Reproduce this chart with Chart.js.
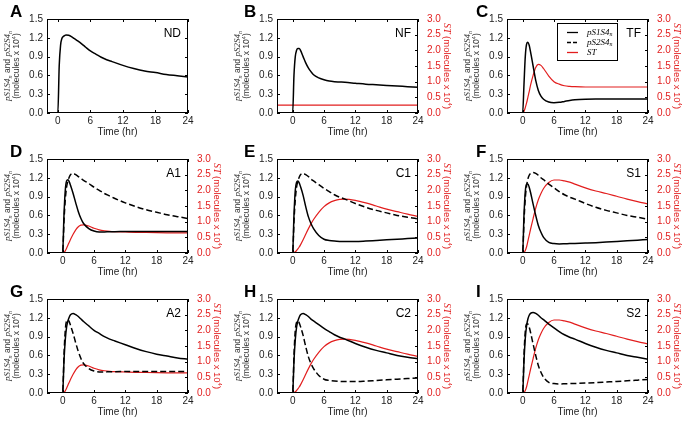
<!DOCTYPE html>
<html>
<head>
<meta charset="utf-8">
<script src="https://cdn.jsdelivr.net/npm/chart.js@4.4.1/dist/chart.umd.min.js"></script>
<style>
  html, body { margin: 0; padding: 0; background: #fff; }
  #grid { position: relative; width: 689px; height: 421px; overflow: hidden; }
  .panel { position: absolute; width: 230px; height: 140px; }
</style>
</head>
<body>
<div id="grid"></div>
<script>
// time points (hr) shared by every curve
const time = [-3, 0, 0.25, 0.5, 0.75, 1, 1.25, 1.5, 2, 2.5, 3, 3.5, 4, 5, 6, 7, 8, 9, 10, 12, 14, 16, 18, 20, 22, 24];
const xTicks = [0, 6, 12, 18, 24];
const leftTicks = [0, 0.3, 0.6, 0.9, 1.2, 1.5];
const rightTicks = [0, 0.5, 1, 1.5, 2, 2.5, 3];
const panelLetters = ['A', 'B', 'C', 'D', 'E', 'F', 'G', 'H', 'I'];
const panelTags = ['ND', 'NF', 'TF', 'A1', 'C1', 'S1', 'A2', 'C2', 'S2'];

// ND
const ndS1 = [0, 0, 0.75, 1.08, 1.19, 1.22, 1.235, 1.245, 1.24, 1.22, 1.19, 1.16, 1.13, 1.06, 0.99, 0.94, 0.89, 0.85, 0.82, 0.76, 0.71, 0.67, 0.645, 0.615, 0.595, 0.575];
// NF
const nfS1 = [0, 0, 0.6, 0.9, 1.0, 1.03, 1.03, 1.0, 0.9, 0.8, 0.72, 0.66, 0.61, 0.56, 0.53, 0.51, 0.5, 0.495, 0.49, 0.475, 0.46, 0.45, 0.44, 0.43, 0.42, 0.41];
const nfST = [0.25, 0.25, 0.25, 0.25, 0.25, 0.25, 0.25, 0.25, 0.25, 0.25, 0.25, 0.25, 0.25, 0.25, 0.25, 0.25, 0.25, 0.25, 0.25, 0.25, 0.25, 0.25, 0.25, 0.25, 0.25, 0.25];
// TF
const tfS1 = [0, 0, 0.45, 0.9, 1.1, 1.13, 1.08, 0.98, 0.75, 0.52, 0.36, 0.27, 0.22, 0.175, 0.165, 0.17, 0.185, 0.2, 0.21, 0.22, 0.225, 0.225, 0.225, 0.225, 0.225, 0.225];
const tfST = [0, 0, 0.05, 0.17, 0.32, 0.5, 0.68, 0.88, 1.2, 1.45, 1.55, 1.52, 1.42, 1.18, 1.0, 0.92, 0.87, 0.85, 0.84, 0.83, 0.83, 0.83, 0.83, 0.83, 0.83, 0.83];
// A1
const a1S1 = [0, 0, 0.6, 1.0, 1.15, 1.17, 1.14, 1.08, 0.95, 0.8, 0.66, 0.55, 0.47, 0.39, 0.35, 0.335, 0.335, 0.34, 0.34, 0.345, 0.345, 0.345, 0.345, 0.345, 0.345, 0.345];
const a1S2 = [0, 0, 0.5, 0.85, 1.05, 1.15, 1.21, 1.25, 1.27, 1.25, 1.22, 1.19, 1.16, 1.11, 1.05, 1.0, 0.95, 0.91, 0.87, 0.8, 0.74, 0.69, 0.65, 0.61, 0.58, 0.55];
const a1ST = [0, 0, 0.02, 0.07, 0.15, 0.25, 0.34, 0.43, 0.6, 0.74, 0.84, 0.89, 0.9, 0.86, 0.79, 0.74, 0.71, 0.69, 0.68, 0.67, 0.66, 0.655, 0.65, 0.645, 0.64, 0.64];
// C1
const c1S1 = [0, 0, 0.6, 1.0, 1.13, 1.15, 1.12, 1.06, 0.92, 0.74, 0.58, 0.47, 0.39, 0.28, 0.22, 0.2, 0.19, 0.185, 0.183, 0.183, 0.19, 0.2, 0.21, 0.22, 0.23, 0.24];
const c1S2 = [0, 0, 0.5, 0.85, 1.05, 1.15, 1.21, 1.25, 1.27, 1.25, 1.22, 1.18, 1.15, 1.09, 1.03, 0.98, 0.93, 0.89, 0.86, 0.79, 0.73, 0.68, 0.64, 0.6, 0.57, 0.545];
const c1ST = [0, 0, 0.01, 0.04, 0.08, 0.13, 0.19, 0.26, 0.42, 0.6, 0.77, 0.93, 1.07, 1.3, 1.48, 1.6, 1.67, 1.71, 1.72, 1.68, 1.6, 1.5, 1.4, 1.32, 1.24, 1.17];
// S1
const s1S1 = [0, 0, 0.6, 0.98, 1.1, 1.1, 1.05, 0.97, 0.78, 0.6, 0.44, 0.33, 0.25, 0.17, 0.15, 0.145, 0.147, 0.15, 0.152, 0.158, 0.165, 0.175, 0.185, 0.195, 0.205, 0.215];
const s1S2 = [0, 0, 0.5, 0.87, 1.07, 1.18, 1.24, 1.27, 1.285, 1.27, 1.24, 1.2, 1.17, 1.1, 1.04, 0.98, 0.93, 0.89, 0.86, 0.79, 0.73, 0.68, 0.64, 0.6, 0.57, 0.54];
const s1ST = [0, 0, 0.02, 0.08, 0.2, 0.38, 0.56, 0.75, 1.1, 1.43, 1.7, 1.9, 2.06, 2.25, 2.33, 2.33, 2.3, 2.26, 2.2, 2.08, 1.98, 1.9, 1.81, 1.72, 1.64, 1.57];
// A2, C2, S2 (the two phospho forms swap roles)
const a2S1 = [0, 0, 0.5, 0.85, 1.05, 1.15, 1.21, 1.25, 1.27, 1.25, 1.22, 1.18, 1.14, 1.07, 1.0, 0.95, 0.9, 0.86, 0.83, 0.77, 0.71, 0.66, 0.62, 0.59, 0.56, 0.54];
const a2S2 = a1S1;
const a2ST = a1ST;
const c2S1 = c1S2;
const c2S2 = c1S1;
const c2ST = c1ST;
const s2S1 = s1S2;
const s2S2 = s1S1;
const s2ST = s1ST;

const panels = [
  { s1: ndS1, xMin: -2 },
  { s1: nfS1, st: nfST },
  { s1: tfS1, st: tfST, legend: true },
  { s1: a1S1, s2: a1S2, st: a1ST },
  { s1: c1S1, s2: c1S2, st: c1ST },
  { s1: s1S1, s2: s1S2, st: s1ST },
  { s1: a2S1, s2: a2S2, st: a2ST },
  { s1: c2S1, s2: c2S2, st: c2ST },
  { s1: s2S1, s2: s2S2, st: s2ST }
];

const RED = 'rgb(226,30,30)';
const SANS = 'Arial, "Liberation Sans", sans-serif';
const NARROW = '"Liberation Sans Narrow", "Arial Narrow", Arial, sans-serif';
const SERIF = '"Liberation Serif", "Times New Roman", serif';
const letterX = [10, 14, 16];

Chart.defaults.font.family = NARROW;
Chart.defaults.font.size = 10;
Chart.defaults.color = '#222';

const pts = arr => time.map((t, i) => ({ x: t, y: arr[i] }));

// draw a line of mixed-style text centred on (0,0)
function drawRich(ctx, segs, color) {
  let total = 0;
  const widths = segs.map(s => { ctx.font = s.font; const w = ctx.measureText(s.t).width; total += w; return w; });
  let x = -total / 2;
  ctx.fillStyle = color;
  ctx.textBaseline = 'middle';
  ctx.textAlign = 'left';
  segs.forEach((s, i) => { ctx.font = s.font; ctx.fillText(s.t, x, s.dy || 0); x += widths[i]; });
}
function drawRichLeft(ctx, segs, x, y, color) {
  ctx.fillStyle = color;
  ctx.textBaseline = 'middle';
  ctx.textAlign = 'left';
  segs.forEach(s => { ctx.font = s.font; ctx.fillText(s.t, x, y + (s.dy || 0)); x += ctx.measureText(s.t).width; });
}

const it = `italic 9px ${SERIF}`;
const sub = `italic 6px ${SERIF}`;
const sans = `8.5px ${SANS}`;
const sup = `5.5px ${SANS}`;
const itR = `italic 10px ${SERIF}`;
const sansR = `9.5px ${SANS}`;
const supR = `6px ${SANS}`;
const leftLine1 = [{ t: 'pS1S4', font: it }, { t: 'n', font: sub, dy: 2 }, { t: ' and ', font: sans }, { t: 'pS2S4', font: it }, { t: 'n', font: sub, dy: 2 }];
const leftLine2 = [{ t: '(molecules x 10', font: sans }, { t: '4', font: sup, dy: -3 }, { t: ')', font: sans }];
const rightLine = [{ t: 'ST', font: itR }, { t: ' (molecules x 10', font: sansR }, { t: '4', font: supR, dy: -3 }, { t: ')', font: sansR }];
const legendRows = [
  { segs: [{ t: 'pS1S4', font: it }, { t: 'n', font: sub, dy: 2 }], color: '#000', dash: [] },
  { segs: [{ t: 'pS2S4', font: it }, { t: 'n', font: sub, dy: 2 }], color: '#000', dash: [4, 2] },
  { segs: [{ t: 'ST', font: it }], color: RED, dash: [] }
];

const grid = document.getElementById('grid');

panels.forEach((p, idx) => {
  const row = Math.floor(idx / 3), col = idx % 3;
  const div = document.createElement('div');
  div.className = 'panel';
  div.style.left = (col * 230) + 'px';
  div.style.top = (row * 140) + 'px';
  const canvas = document.createElement('canvas');
  canvas.width = 230; canvas.height = 140;
  div.appendChild(canvas);
  grid.appendChild(div);

  const hasRight = !!p.st;
  const datasets = [];
  datasets.push({ data: pts(p.s1), borderColor: '#000', borderWidth: 1.5, yAxisID: 'y' });
  if (p.s2) datasets.push({ data: pts(p.s2), borderColor: '#000', borderWidth: 1.5, borderDash: [6, 3], yAxisID: 'y' });
  if (p.st) datasets.push({ data: pts(p.st), borderColor: RED, borderWidth: 1.2, yAxisID: 'y2' });

  const scales = {
    x: {
      type: 'linear', min: p.xMin ?? -3, max: 24,
      afterBuildTicks: s => { s.ticks = xTicks.map(v => ({ value: v })); },
      afterFit: s => { s.height = 27; },
      grid: { display: false, drawTicks: false }, border: { display: false },
      ticks: { padding: 2, maxRotation: 0, autoSkip: false, color: '#222' },
      title: { display: true, text: 'Time (hr)', padding: { top: 0, bottom: 2 }, color: '#222', font: { size: 10 } }
    },
    y: {
      position: 'left', min: 0, max: 1.5,
      afterBuildTicks: s => { s.ticks = leftTicks.map(v => ({ value: v })); },
      afterFit: s => { s.width = 47; },
      grid: { display: false, drawTicks: false }, border: { display: false },
      ticks: { padding: 4, color: '#222', callback: v => v.toFixed(1) }
    }
  };
  if (hasRight) {
    scales.y2 = {
      position: 'right', min: 0, max: 3,
      afterBuildTicks: s => { s.ticks = rightTicks.map(v => ({ value: v })); },
      afterFit: s => { s.width = 42; },
      grid: { display: false, drawTicks: false }, border: { display: false },
      ticks: { padding: 9, color: RED, callback: v => v.toFixed(1) }
    };
  }

  const deco = {
    id: 'deco',
    afterDraw(chart) {
      const ctx = chart.ctx, ca = chart.chartArea;
      ctx.save();
      ctx.strokeStyle = '#000';
      ctx.lineWidth = 1;
      ctx.setLineDash([]);
      ctx.strokeRect(ca.left + 0.5, ca.top + 0.5, ca.width - 1, ca.height - 1);
      ctx.beginPath();
      xTicks.forEach(v => {
        const px = Math.round(chart.scales.x.getPixelForValue(v)) + 0.5;
        ctx.moveTo(px, ca.bottom); ctx.lineTo(px, ca.bottom - 3);
        ctx.moveTo(px, ca.top); ctx.lineTo(px, ca.top + 3);
      });
      leftTicks.forEach(v => {
        const py = Math.round(chart.scales.y.getPixelForValue(v)) + 0.5;
        ctx.moveTo(ca.left, py); ctx.lineTo(ca.left + 3, py);
        if (!hasRight) { ctx.moveTo(ca.right, py); ctx.lineTo(ca.right - 3, py); }
      });
      if (hasRight) {
        rightTicks.forEach(v => {
          const py = Math.round(chart.scales.y2.getPixelForValue(v)) + 0.5;
          ctx.moveTo(ca.right, py); ctx.lineTo(ca.right - 3, py);
        });
      }
      ctx.stroke();

      // panel letter and condition tag
      ctx.fillStyle = '#000';
      ctx.font = `bold 17px ${SANS}`;
      ctx.textAlign = 'left'; ctx.textBaseline = 'alphabetic';
      ctx.fillText(panelLetters[idx], letterX[col], 17);
      ctx.font = `12px ${SANS}`;
      ctx.textAlign = 'right';
      ctx.fillText(panelTags[idx], ca.right - 7, ca.top + 18);

      // axis titles
      const cy = (ca.top + ca.bottom) / 2;
      ctx.save(); ctx.translate(8, cy); ctx.rotate(-Math.PI / 2); drawRich(ctx, leftLine1, '#333'); ctx.restore();
      ctx.save(); ctx.translate(17, cy); ctx.rotate(-Math.PI / 2); drawRich(ctx, leftLine2, '#333'); ctx.restore();
      if (hasRight) {
        ctx.save(); ctx.translate(217, cy); ctx.rotate(Math.PI / 2); drawRich(ctx, rightLine, RED); ctx.restore();
      }

      if (p.legend) {
        const bx = ca.left + 50, by = ca.top + 4, bw = 60, bh = 37;
        ctx.fillStyle = '#fff';
        ctx.fillRect(bx, by, bw, bh);
        ctx.strokeStyle = '#000';
        ctx.strokeRect(bx + 0.5, by + 0.5, bw, bh);
        legendRows.forEach((r, i) => {
          const ly = by + 9.5 + i * 10;
          ctx.strokeStyle = r.color; ctx.lineWidth = 1.3; ctx.setLineDash(r.dash);
          ctx.beginPath(); ctx.moveTo(bx + 10, ly); ctx.lineTo(bx + 21, ly); ctx.stroke();
          ctx.setLineDash([]);
          drawRichLeft(ctx, r.segs, bx + 30, ly, '#000');
        });
      }
      ctx.restore();
    }
  };

  new Chart(canvas.getContext('2d'), {
    type: 'line',
    data: { datasets },
    options: {
      responsive: false,
      animation: false,
      layout: { padding: { top: 19, right: hasRight ? 0 : 42, left: 0, bottom: 0 } },
      elements: { point: { radius: 0 }, line: { cubicInterpolationMode: 'monotone' } },
      plugins: { legend: { display: false }, tooltip: { enabled: false } },
      scales
    },
    plugins: [deco]
  });
});
</script>
</body>
</html>
